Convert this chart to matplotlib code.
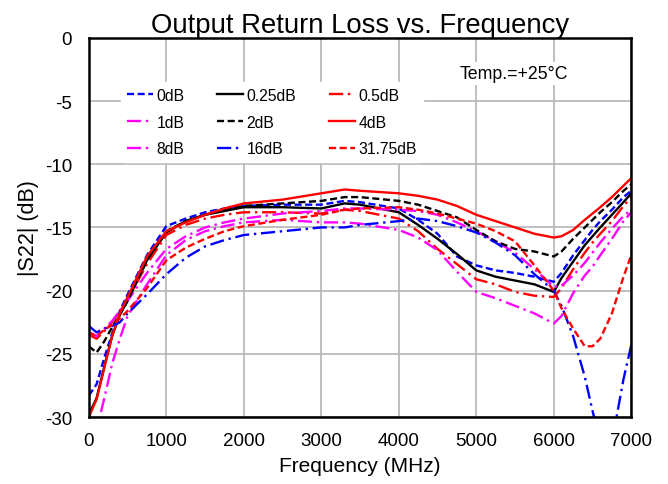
import numpy as np
import matplotlib
matplotlib.use("Agg")
import matplotlib.pyplot as plt

plt.rcParams['font.family'] = ['Liberation Sans', 'DejaVu Sans']
plt.rcParams['axes.unicode_minus'] = False

# frequency points (MHz)
freq = [0, 100, 200, 300, 400, 500, 750, 1000, 1250, 1500, 1750, 2000, 2500, 3000, 3300,
        3500, 4000, 4250, 4500, 4750, 5000, 5250, 5500, 5750, 6000, 6100, 6250, 6400,
        6500, 6600, 6750, 6900, 7000]

s22_0db = [-28.3, -27.4, -25.3, -23.4, -21.6, -20.3, -17.2, -14.9, -14.3, -13.8, -13.5, -13.3,
           -13.2, -13.2, -12.9, -13.0, -13.5, -14.4, -15.5, -17.3, -18.0, -18.4, -18.6, -18.9,
           -19.3, -18.6, -17.2, -16.0, -15.2, -14.5, -13.6, -12.6, -12.1]
s22_025db = [-29.8, -28.5, -26.0, -23.6, -21.9, -20.8, -17.6, -15.4, -14.5, -14.0, -13.7, -13.4,
             -13.4, -13.5, -13.1, -13.2, -13.8, -14.8, -15.9, -17.1, -18.4, -18.9, -19.2, -19.5,
             -20.1, -19.0, -17.7, -16.4, -15.7, -15.0, -14.0, -13.0, -12.3]
s22_05db = [-23.5, -23.8, -23.2, -22.5, -21.6, -20.7, -17.9, -15.6, -14.8, -14.3, -14.0, -13.8,
            -13.8, -13.9, -13.6, -13.7, -14.3, -15.3, -16.7, -17.9, -19.1, -19.5, -20.1, -20.4,
            -20.5, -19.8, -18.3, -17.0, -16.2, -15.5, -14.5, -13.3, -12.6]
s22_1db = [-23.3, -23.6, -23.0, -22.4, -21.6, -20.8, -18.6, -16.7, -15.7, -15.0, -14.6, -14.3,
           -13.9, -13.7, -13.5, -13.5, -13.6, -13.7, -14.0, -14.6, -15.3, -16.1, -17.0, -18.3,
           -19.7, -19.6, -18.8, -17.8, -17.0, -16.2, -15.1, -14.1, -13.6]
s22_2db = [-24.4, -24.9, -24.0, -22.9, -21.9, -20.8, -17.6, -15.3, -14.5, -14.0, -13.6, -13.3,
           -13.1, -12.9, -12.6, -12.6, -12.9, -13.2, -13.7, -14.2, -15.2, -16.1, -16.7, -16.9,
           -17.3, -16.9, -15.9, -15.0, -14.4, -13.8, -13.0, -12.1, -11.6]
s22_4db = [-30.0, -28.6, -26.1, -23.6, -21.8, -20.5, -17.3, -15.3, -14.6, -14.0, -13.5, -13.1,
           -12.8, -12.3, -12.0, -12.1, -12.3, -12.5, -12.8, -13.3, -14.0, -14.5, -15.0, -15.5,
           -15.8, -15.7, -15.2, -14.4, -13.9, -13.4, -12.6, -11.7, -11.1]
s22_8db = [-31.0, -31.0, -28.5, -25.8, -23.8, -22.0, -19.5, -17.2, -16.0, -15.3, -14.9, -14.6,
           -14.4, -14.6, -14.6, -14.7, -15.2, -15.8, -16.8, -18.5, -20.1, -20.6, -21.2, -21.8,
           -22.6, -22.0, -20.2, -18.8, -18.1, -17.2, -15.9, -14.5, -13.8]
s22_16db = [-22.8, -23.3, -23.0, -22.8, -22.5, -21.8, -20.3, -18.7, -17.4, -16.5, -16.0, -15.6,
            -15.3, -15.0, -15.0, -14.8, -14.5, -14.3, -14.5, -14.9, -15.4, -16.2, -17.2, -18.7,
            -20.0, -21.2, -23.6, -26.8, -29.5, -32.0, -32.0, -27.0, -24.3]
s22_3175db = [-23.3, -23.6, -23.1, -22.7, -22.2, -21.6, -19.8, -17.6, -16.6, -15.9, -15.3, -14.9,
              -14.4, -14.0, -13.6, -13.5, -13.4, -13.6, -13.9, -14.3, -14.7, -15.3, -16.1, -18.0,
              -20.0, -21.4, -23.0, -24.4, -24.4, -23.8, -21.8, -18.9, -17.2]

labels = ['0dB', '0.25dB', '0.5dB', '1dB', '2dB', '4dB', '8dB', '16dB', '31.75dB']
series = [s22_0db, s22_025db, s22_05db, s22_1db, s22_2db, s22_4db, s22_8db, s22_16db, s22_3175db]
colors = ['blue', 'black', 'red', 'magenta', 'black', 'red', 'magenta', 'blue', 'red']
dashdot = (0, (6, 2, 1, 2))
dashed = (0, (3, 1.5))
styles = [dashed, '-', dashdot, dashdot, dashed, '-', dashdot, dashdot, dashed]

fig = plt.figure(figsize=(6.68, 4.85), dpi=100)
ax = fig.add_axes([0.133, 0.138, 0.812, 0.782])

handles = []
for vals, lab, c, ls in zip(series, labels, colors, styles):
    h, = ax.plot(freq, vals, color=c, linestyle=ls, linewidth=1.7, label=lab)
    handles.append(h)

ax.set_xlim(0, 7000)
ax.set_ylim(-30, 0)
ax.set_xticks(np.arange(0, 7001, 1000))
ax.set_yticks(np.arange(-30, 1, 5))
ax.grid(True, color='#b4b4b4', linewidth=1.2)
ax.set_axisbelow(True)
ax.tick_params(axis='x', length=0, labelsize=13.5, pad=10.5)
ax.tick_params(axis='y', length=0, labelsize=13.5, pad=12)
for sp in ax.spines.values():
    sp.set_linewidth(1.8)

ax.set_title('Output Return Loss vs. Frequency', fontsize=19.8, pad=1)
ax.set_xlabel('Frequency (MHz)', fontsize=15, labelpad=5)
ax.set_ylabel('|S22| (dB)', fontsize=15.5, labelpad=4)

# legend is read row-wise in the chart, matplotlib fills column-wise
order = [0, 3, 6, 1, 4, 7, 2, 5, 8]
leg = ax.legend([handles[i] for i in order], [labels[i] for i in order], ncol=3,
                loc='upper left', bbox_to_anchor=(0.045, 0.905), frameon=True,
                fontsize=11.3, handlelength=1.65, handletextpad=0.2, columnspacing=2.1,
                labelspacing=0.74, borderpad=0.4)
leg.get_frame().set_edgecolor('white')
leg.get_frame().set_facecolor('white')
leg.get_frame().set_alpha(1)

ax.text(0.684, 0.905, 'Temp.=+25°C', transform=ax.transAxes, fontsize=12.8,
        va='center', ha='left', bbox=dict(facecolor='white', edgecolor='none', pad=2))

fig.savefig('out.png', dpi=100)
